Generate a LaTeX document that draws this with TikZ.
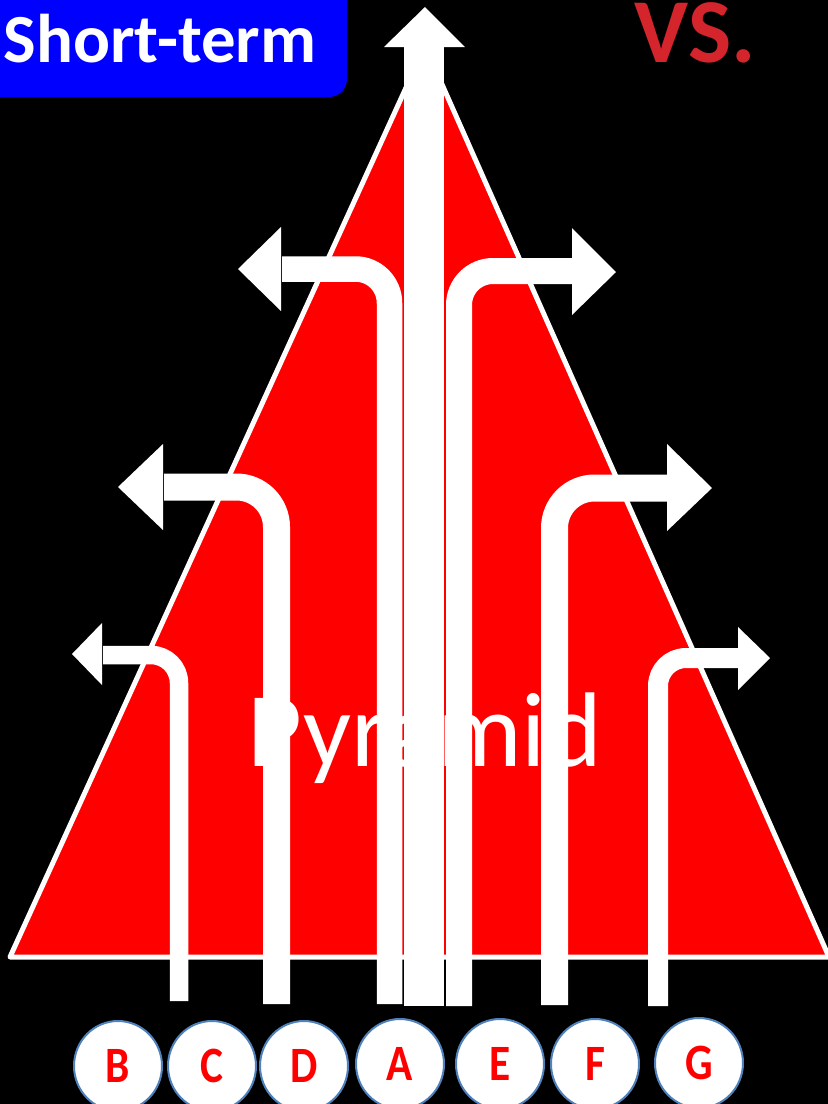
\documentclass[tikz,border=0pt]{standalone}
\usepackage{fontspec}
\setmainfont{Carlito}
\usetikzlibrary{shapes.geometric}
\definecolor{vsred}{RGB}{212,36,44}
\definecolor{ringblue}{RGB}{79,129,189}
\tikzset{
  shaft/.style={draw=white,line cap=butt,line join=round},
  head/.style={fill=white},
  letter/.style={ellipse,fill=white,draw=ringblue,line width=0.2mm,
    minimum width=8.8mm,minimum height=9mm,inner sep=0pt,
    text=red,font=\fontsize{14.5}{14.5}\selectfont\bfseries}
}
\begin{document}
\begin{tikzpicture}[x=0.1mm,y=-0.1mm]
\useasboundingbox (0,0) rectangle (828,1104);
\clip (0,0) rectangle (828,1104);
\fill[black] (0,0) rectangle (828,1104);
% labels at the top
\fill[blue,rounded corners=1.8mm] (-30,-30) rectangle (347,97);
\node[anchor=base west,inner sep=0pt,text=white,font=\fontsize{19.6}{19.6}\selectfont\bfseries] (short) at (3,62) {Short-term};
\node[anchor=base west,inner sep=0pt,text=vsred,font=\fontsize{26}{26}\selectfont\bfseries] (vs) at (634,62) {VS.};
% the pyramid
\filldraw[fill=red,draw=white,line width=0.5mm,line join=round] (10,957) -- (425,46) -- (829,957) -- cycle;
\node[anchor=base west,inner sep=0pt,text=white,font=\fontsize{30.2}{30.2}\selectfont] (pyr) at (247,766) {Pyramid};
% central arrow A
\fill[white] (404,1006) rectangle (444,46);
\fill[head] (384,47) -- (425,7) -- (465,47) -- cycle;
% left arrows
\draw[shaft,line width=2.55mm,rounded corners=3.4mm] (389.5,1004) |- (282,269);
\fill[head] (281,227) -- (238,269) -- (281,311) -- cycle;
\draw[shaft,line width=2.7mm,rounded corners=4mm] (276.5,1004) |- (164,487);
\fill[head] (163,444) -- (118,487) -- (163,530) -- cycle;
\draw[shaft,line width=1.85mm,rounded corners=2.8mm] (179,1001) |- (103,655);
\fill[head] (102,623) -- (72,654) -- (102,685) -- cycle;
% right arrows
\draw[shaft,line width=2.6mm,rounded corners=3.4mm] (459,1006) |- (573,271);
\fill[head] (572,228) -- (616,272) -- (572,315) -- cycle;
\draw[shaft,line width=2.7mm,rounded corners=4mm] (554.5,1005) |- (668,488);
\fill[head] (667,444) -- (712,488) -- (667,531) -- cycle;
\draw[shaft,line width=2mm,rounded corners=2.8mm] (658,1006) |- (739,658);
\fill[head] (738,627) -- (770,658) -- (738,690) -- cycle;
% the seven letters
\node[letter] (b) at (118,1066) {\scalebox{0.85}[1]{B}};
\node[letter] (c) at (212,1066) {\scalebox{0.85}[1]{C}};
\node[letter] (d) at (304,1066) {\scalebox{0.85}[1]{D}};
\node[letter] (a) at (400,1064) {\scalebox{0.85}[1]{A}};
\node[letter] (e) at (500,1064) {\scalebox{0.85}[1]{E}};
\node[letter] (f) at (595,1064) {\scalebox{0.85}[1]{F}};
\node[letter] (g) at (699,1063) {\scalebox{0.85}[1]{G}};
\end{tikzpicture}
\end{document}
